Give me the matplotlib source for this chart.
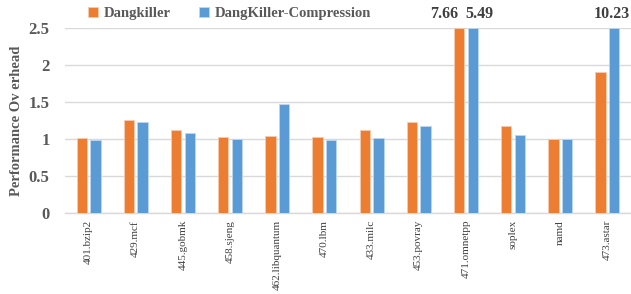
import matplotlib
matplotlib.use("Agg")
import matplotlib.pyplot as plt
import numpy as np

categories = ["401.bzip2", "429.mcf", "445.gobmk", "458.sjeng", "462.libquantum",
              "470.lbm", "433.milc", "453.povray", "471.omnetpp", "soplex", "namd", "473.astar"]
dangkiller = [1.01, 1.26, 1.12, 1.03, 1.04, 1.03, 1.12, 1.23, 7.66, 1.18, 1.00, 1.91]
compression = [0.99, 1.23, 1.08, 1.00, 1.47, 0.98, 1.02, 1.18, 5.49, 1.05, 1.00, 10.23]
ymax = 2.5

plt.rcParams['font.family'] = ['Liberation Serif', 'DejaVu Serif']
grey = '#595959'

fig = plt.figure(figsize=(6.31, 2.94), dpi=100)
ax = fig.add_axes([65/631, 1-213/294, 566/631, (213-28)/294])

x = np.arange(len(categories))
w = 0.22
gap = 0.035
orange = '#ED7D31'
blue = '#5B9BD5'
ax.bar(x - w/2 - gap, np.minimum(dangkiller, ymax), w, color=orange, edgecolor='#F8CBAD', linewidth=0.6,
       label='Dangkiller', zorder=3)
ax.bar(x + w/2 + gap, np.minimum(compression, ymax), w, color=blue, edgecolor='#BDD7EE', linewidth=0.6,
       label='DangKiller-Compression', zorder=3)

# labels for clipped bars
lab_kw = dict(ha='center', va='bottom', fontsize=11.5, fontweight='bold', color='#404040')
for i, (a, b) in enumerate(zip(dangkiller, compression)):
    if a > ymax and b > ymax:
        ax.text(i - 0.47, ymax + 0.08, f"{a:.2f}", **lab_kw)
        ax.text(i + 0.28, ymax + 0.08, f"{b:.2f}", **lab_kw)
    elif b > ymax:
        ax.text(i + 0.1, ymax + 0.08, f"{b:.2f}", **lab_kw)
    elif a > ymax:
        ax.text(i - 0.1, ymax + 0.08, f"{a:.2f}", **lab_kw)

ax.set_xlim(-0.5, len(categories) - 0.5)
ax.set_ylim(0, ymax)
ax.set_yticks([0, 0.5, 1, 1.5, 2, 2.5])
ax.set_yticklabels(['0', '0.5', '1', '1.5', '2', '2.5'], fontweight='bold', fontsize=12, color=grey)
ax.set_xticks(x)
ax.set_xticklabels(categories, rotation=90, fontsize=8, color='#404040')
ax.tick_params(axis='both', length=0)
ax.tick_params(axis='y', pad=11)
ax.tick_params(axis='x', pad=5)
ax.grid(axis='y', color='#D9D9D9', linewidth=1, zorder=0)
for s in ['top', 'right', 'left']:
    ax.spines[s].set_visible(False)
ax.spines['bottom'].set_color('#D9D9D9')
ax.spines['bottom'].set_linewidth(1)

ax.set_ylabel('Performance Ov erhead', fontweight='bold', fontsize=10.5, color=grey, labelpad=4)

leg = fig.legend(loc='upper left', bbox_to_anchor=(75/631, 1.02), ncol=2, frameon=False,
                 prop={'weight': 'bold', 'size': 10.5}, handlelength=0.7, handleheight=0.7,
                 handletextpad=0.4, columnspacing=1.9)
for t in leg.get_texts():
    t.set_color(grey)

fig.savefig('out.png', dpi=100)
